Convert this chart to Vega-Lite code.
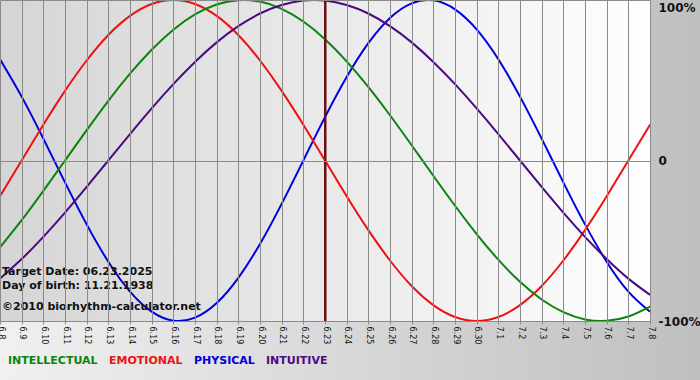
{
 "$schema": "https://vega.github.io/schema/vega-lite/v6.json",
 "width": 650,
 "height": 321,
 "autosize": {"type": "none"},
 "padding": {"left": 0, "top": 0, "right": 50, "bottom": 59},
 "background": "#d4d4d4",
 "config": {"view": {"stroke": null},
  "axisX": {"labelAngle": 90, "labelAlign": "left", "labelBaseline": "middle", "labelPadding": 2,
        "labelFont": "DejaVu Sans", "labelFontSize": 8, "labelColor": "#111111",
        "labelOverlap": false, "labelBound": false, "labelFlush": false,
        "tickSize": 3, "tickColor": "#8a8a8a", "domainColor": "#8a8a8a", "grid": true},
  "axisY": {"labelFont": "DejaVu Sans", "labelFontWeight": "bold", "labelFontSize": 12, "labelColor": "#111111",
        "labelPadding": 8, "labelBaseline": "middle",
        "labelOverlap": false, "labelBound": false, "labelFlush": false,
        "ticks": false, "tickSize": 0, "domain": false, "grid": true, "gridColor": "#8a8a8a"}
 },
 "data": {"values": [
  {"day":0,"series":"PHYSICAL","value":63.1},{"day":1,"series":"PHYSICAL","value":39.8},{"day":2,"series":"PHYSICAL","value":13.6},{"day":3,"series":"PHYSICAL","value":-13.6},{"day":4,"series":"PHYSICAL","value":-39.8},{"day":5,"series":"PHYSICAL","value":-63.1},{"day":6,"series":"PHYSICAL","value":-81.7},{"day":7,"series":"PHYSICAL","value":-94.2},{"day":8,"series":"PHYSICAL","value":-99.8},{"day":9,"series":"PHYSICAL","value":-97.9},{"day":10,"series":"PHYSICAL","value":-88.8},{"day":11,"series":"PHYSICAL","value":-73.1},{"day":12,"series":"PHYSICAL","value":-52.0},{"day":13,"series":"PHYSICAL","value":-27.0},{"day":14,"series":"PHYSICAL","value":0},{"day":15,"series":"PHYSICAL","value":27.0},{"day":16,"series":"PHYSICAL","value":52.0},{"day":17,"series":"PHYSICAL","value":73.1},{"day":18,"series":"PHYSICAL","value":88.8},{"day":19,"series":"PHYSICAL","value":97.9},{"day":20,"series":"PHYSICAL","value":99.8},{"day":21,"series":"PHYSICAL","value":94.2},{"day":22,"series":"PHYSICAL","value":81.7},{"day":23,"series":"PHYSICAL","value":63.1},{"day":24,"series":"PHYSICAL","value":39.8},{"day":25,"series":"PHYSICAL","value":13.6},{"day":26,"series":"PHYSICAL","value":-13.6},{"day":27,"series":"PHYSICAL","value":-39.8},{"day":28,"series":"PHYSICAL","value":-63.1},{"day":29,"series":"PHYSICAL","value":-81.7},{"day":30,"series":"PHYSICAL","value":-94.2},
  {"day":0,"series":"EMOTIONAL","value":-22.3},{"day":1,"series":"EMOTIONAL","value":0},{"day":2,"series":"EMOTIONAL","value":22.3},{"day":3,"series":"EMOTIONAL","value":43.4},{"day":4,"series":"EMOTIONAL","value":62.3},{"day":5,"series":"EMOTIONAL","value":78.2},{"day":6,"series":"EMOTIONAL","value":90.1},{"day":7,"series":"EMOTIONAL","value":97.5},{"day":8,"series":"EMOTIONAL","value":100},{"day":9,"series":"EMOTIONAL","value":97.5},{"day":10,"series":"EMOTIONAL","value":90.1},{"day":11,"series":"EMOTIONAL","value":78.2},{"day":12,"series":"EMOTIONAL","value":62.3},{"day":13,"series":"EMOTIONAL","value":43.4},{"day":14,"series":"EMOTIONAL","value":22.3},{"day":15,"series":"EMOTIONAL","value":0},{"day":16,"series":"EMOTIONAL","value":-22.3},{"day":17,"series":"EMOTIONAL","value":-43.4},{"day":18,"series":"EMOTIONAL","value":-62.3},{"day":19,"series":"EMOTIONAL","value":-78.2},{"day":20,"series":"EMOTIONAL","value":-90.1},{"day":21,"series":"EMOTIONAL","value":-97.5},{"day":22,"series":"EMOTIONAL","value":-100},{"day":23,"series":"EMOTIONAL","value":-97.5},{"day":24,"series":"EMOTIONAL","value":-90.1},{"day":25,"series":"EMOTIONAL","value":-78.2},{"day":26,"series":"EMOTIONAL","value":-62.3},{"day":27,"series":"EMOTIONAL","value":-43.4},{"day":28,"series":"EMOTIONAL","value":-22.3},{"day":29,"series":"EMOTIONAL","value":0},{"day":30,"series":"EMOTIONAL","value":22.3},
  {"day":0,"series":"INTELLECTUAL","value":-54.1},{"day":1,"series":"INTELLECTUAL","value":-37.2},{"day":2,"series":"INTELLECTUAL","value":-18.9},{"day":3,"series":"INTELLECTUAL","value":0},{"day":4,"series":"INTELLECTUAL","value":18.9},{"day":5,"series":"INTELLECTUAL","value":37.2},{"day":6,"series":"INTELLECTUAL","value":54.1},{"day":7,"series":"INTELLECTUAL","value":69.0},{"day":8,"series":"INTELLECTUAL","value":81.5},{"day":9,"series":"INTELLECTUAL","value":91.0},{"day":10,"series":"INTELLECTUAL","value":97.2},{"day":11,"series":"INTELLECTUAL","value":99.9},{"day":12,"series":"INTELLECTUAL","value":99.0},{"day":13,"series":"INTELLECTUAL","value":94.5},{"day":14,"series":"INTELLECTUAL","value":86.6},{"day":15,"series":"INTELLECTUAL","value":75.6},{"day":16,"series":"INTELLECTUAL","value":61.8},{"day":17,"series":"INTELLECTUAL","value":45.8},{"day":18,"series":"INTELLECTUAL","value":28.2},{"day":19,"series":"INTELLECTUAL","value":9.5},{"day":20,"series":"INTELLECTUAL","value":-9.5},{"day":21,"series":"INTELLECTUAL","value":-28.2},{"day":22,"series":"INTELLECTUAL","value":-45.8},{"day":23,"series":"INTELLECTUAL","value":-61.8},{"day":24,"series":"INTELLECTUAL","value":-75.6},{"day":25,"series":"INTELLECTUAL","value":-86.6},{"day":26,"series":"INTELLECTUAL","value":-94.5},{"day":27,"series":"INTELLECTUAL","value":-99.0},{"day":28,"series":"INTELLECTUAL","value":-99.9},{"day":29,"series":"INTELLECTUAL","value":-97.2},{"day":30,"series":"INTELLECTUAL","value":-91.0},
  {"day":0,"series":"INTUITIVE","value":-73.6},{"day":1,"series":"INTUITIVE","value":-61.4},{"day":2,"series":"INTUITIVE","value":-47.6},{"day":3,"series":"INTUITIVE","value":-32.5},{"day":4,"series":"INTUITIVE","value":-16.5},{"day":5,"series":"INTUITIVE","value":0},{"day":6,"series":"INTUITIVE","value":16.5},{"day":7,"series":"INTUITIVE","value":32.5},{"day":8,"series":"INTUITIVE","value":47.6},{"day":9,"series":"INTUITIVE","value":61.4},{"day":10,"series":"INTUITIVE","value":73.6},{"day":11,"series":"INTUITIVE","value":83.7},{"day":12,"series":"INTUITIVE","value":91.6},{"day":13,"series":"INTUITIVE","value":96.9},{"day":14,"series":"INTUITIVE","value":99.7},{"day":15,"series":"INTUITIVE","value":99.7},{"day":16,"series":"INTUITIVE","value":96.9},{"day":17,"series":"INTUITIVE","value":91.6},{"day":18,"series":"INTUITIVE","value":83.7},{"day":19,"series":"INTUITIVE","value":73.6},{"day":20,"series":"INTUITIVE","value":61.4},{"day":21,"series":"INTUITIVE","value":47.6},{"day":22,"series":"INTUITIVE","value":32.5},{"day":23,"series":"INTUITIVE","value":16.5},{"day":24,"series":"INTUITIVE","value":0},{"day":25,"series":"INTUITIVE","value":-16.5},{"day":26,"series":"INTUITIVE","value":-32.5},{"day":27,"series":"INTUITIVE","value":-47.6},{"day":28,"series":"INTUITIVE","value":-61.4},{"day":29,"series":"INTUITIVE","value":-73.6},{"day":30,"series":"INTUITIVE","value":-83.7}
 ]},
 "layer": [
  {
   "data": {"values": [{}]},
   "mark": {"type": "rect", "clip": false, "fill": {"gradient": "linear", "x1": 0, "y1": 0, "x2": 1, "y2": 0, "stops": [{"offset": 0, "color": "#f0f0f0"}, {"offset": 1, "color": "#bfbfbf"}]}},
   "encoding": {
    "x": {"datum": 0, "type": "quantitative", "title": null, "scale": {"domain": [0, 30], "nice": false, "zero": false},
      "axis": {"orient": "bottom", "zindex": 1, "tickCount": 40, "values": [0,1,2,3,4,5,6,7,8,9,10,11,12,13,14,15,16,17,18,19,20,21,22,23,24,25,26,27,28,29,30],
        "labelExpr": "datum.value < 23 ? '6.' + (datum.value + 8) : '7.' + (datum.value - 22)",
        "gridColor": {"condition": {"test": "datum.value === 15", "value": "#6e0f0f"}, "value": "#8a8a8a"},
        "gridWidth": {"condition": {"test": "datum.value === 15", "value": 2}, "value": 1}}},
    "x2": {"datum": 32.5},
    "y": {"datum": 100, "type": "quantitative", "title": null, "scale": {"domain": [-100, 100], "nice": false},
      "axis": {"orient": "right", "zindex": 1, "values": [-100, 0, 100],
        "labelExpr": "datum.value === 100 ? '100%' : (datum.value === 0 ? '0' : '-100%')",
        "labelOffset": {"condition": {"test": "datum.value === 100", "value": 7}, "value": 0}}},
    "y2": {"datum": -137.5}
   }
  },
  {
   "data": {"values": [{}]},
   "mark": {"type": "rect", "fill": {"gradient": "linear", "x1": 0, "y1": 0, "x2": 1, "y2": 0, "stops": [{"offset": 0, "color": "#d5d5d5"}, {"offset": 1, "color": "#fefefe"}]}},
   "encoding": {
    "x": {"datum": 0, "type": "quantitative", "title": null, "scale": {"domain": [0, 30], "nice": false, "zero": false},
      "axis": {"orient": "bottom", "zindex": 1, "tickCount": 40, "values": [0,1,2,3,4,5,6,7,8,9,10,11,12,13,14,15,16,17,18,19,20,21,22,23,24,25,26,27,28,29,30],
        "labelExpr": "datum.value < 23 ? '6.' + (datum.value + 8) : '7.' + (datum.value - 22)",
        "gridColor": {"condition": {"test": "datum.value === 15", "value": "#6e0f0f"}, "value": "#8a8a8a"},
        "gridWidth": {"condition": {"test": "datum.value === 15", "value": 2}, "value": 1}}},
    "x2": {"datum": 30},
    "y": {"datum": 100, "type": "quantitative", "title": null, "scale": {"domain": [-100, 100], "nice": false},
      "axis": {"orient": "right", "zindex": 1, "values": [-100, 0, 100],
        "labelExpr": "datum.value === 100 ? '100%' : (datum.value === 0 ? '0' : '-100%')",
        "labelOffset": {"condition": {"test": "datum.value === 100", "value": 7}, "value": 0}}},
    "y2": {"datum": -100}
   }
  },
  {
   "data": {"values": [{}]},
   "mark": {"type": "rule", "color": "#6e0f0f", "strokeWidth": 2},
   "encoding": {
    "x": {"datum": 15, "type": "quantitative", "title": null, "scale": {"domain": [0, 30], "nice": false, "zero": false},
      "axis": {"orient": "bottom", "zindex": 1, "tickCount": 40, "values": [0,1,2,3,4,5,6,7,8,9,10,11,12,13,14,15,16,17,18,19,20,21,22,23,24,25,26,27,28,29,30],
        "labelExpr": "datum.value < 23 ? '6.' + (datum.value + 8) : '7.' + (datum.value - 22)",
        "gridColor": {"condition": {"test": "datum.value === 15", "value": "#6e0f0f"}, "value": "#8a8a8a"},
        "gridWidth": {"condition": {"test": "datum.value === 15", "value": 2}, "value": 1}}}
   }
  },
  {
   "mark": {"type": "line", "interpolate": "natural", "strokeWidth": 2, "clip": false},
   "encoding": {
    "x": {"field": "day", "type": "quantitative", "title": null,
      "scale": {"domain": [0, 30], "nice": false, "zero": false},
      "axis": {"orient": "bottom", "zindex": 1, "tickCount": 40, "values": [0,1,2,3,4,5,6,7,8,9,10,11,12,13,14,15,16,17,18,19,20,21,22,23,24,25,26,27,28,29,30],
        "labelExpr": "datum.value < 23 ? '6.' + (datum.value + 8) : '7.' + (datum.value - 22)",
        "gridColor": {"condition": {"test": "datum.value === 15", "value": "#6e0f0f"}, "value": "#8a8a8a"},
        "gridWidth": {"condition": {"test": "datum.value === 15", "value": 2}, "value": 1}}},
    "y": {"field": "value", "type": "quantitative", "title": null,
      "scale": {"domain": [-100, 100], "nice": false},
      "axis": {"orient": "right", "zindex": 1, "values": [-100, 0, 100],
        "labelExpr": "datum.value === 100 ? '100%' : (datum.value === 0 ? '0' : '-100%')",
        "labelOffset": {"condition": {"test": "datum.value === 100", "value": 7}, "value": 0}}},
    "color": {"field": "series", "type": "nominal",
      "scale": {"domain": ["INTELLECTUAL", "EMOTIONAL", "PHYSICAL", "INTUITIVE"], "range": ["#0b840b", "#ee1111", "#0000dd", "#4b0a82"]},
      "legend": {"orient": "none", "legendX": -3, "legendY": 355, "direction": "horizontal", "title": null,
        "padding": 0, "symbolSize": 1, "symbolStrokeWidth": 0, "symbolOpacity": 0, "labelOffset": 0,
        "columnPadding": -3, "labelFont": "DejaVu Sans", "labelFontWeight": "bold", "labelFontSize": 11,
        "encode": {"labels": {"update": {"fill": {"scale": "color", "field": "value"}}}}}}
   }
  },
  {
   "data": {"values": [{}]},
   "mark": {"type": "text", "align": "left", "baseline": "middle", "dx": 2, "font": "DejaVu Sans", "fontWeight": "bold", "fontSize": 11, "color": "#111111"},
   "encoding": {
    "x": {"datum": 0, "type": "quantitative", "title": null, "scale": {"domain": [0, 30], "nice": false, "zero": false},
      "axis": {"orient": "bottom", "zindex": 1, "tickCount": 40, "values": [0,1,2,3,4,5,6,7,8,9,10,11,12,13,14,15,16,17,18,19,20,21,22,23,24,25,26,27,28,29,30],
        "labelExpr": "datum.value < 23 ? '6.' + (datum.value + 8) : '7.' + (datum.value - 22)",
        "gridColor": {"condition": {"test": "datum.value === 15", "value": "#6e0f0f"}, "value": "#8a8a8a"},
        "gridWidth": {"condition": {"test": "datum.value === 15", "value": 2}, "value": 1}}},
    "y": {"datum": -69.5, "type": "quantitative", "title": null, "scale": {"domain": [-100, 100], "nice": false},
      "axis": {"orient": "right", "zindex": 1, "values": [-100, 0, 100],
        "labelExpr": "datum.value === 100 ? '100%' : (datum.value === 0 ? '0' : '-100%')",
        "labelOffset": {"condition": {"test": "datum.value === 100", "value": 7}, "value": 0}}},
    "text": {"value": "Target Date: 06.23.2025"}
   }
  },
  {
   "data": {"values": [{}]},
   "mark": {"type": "text", "align": "left", "baseline": "middle", "dx": 2, "font": "DejaVu Sans", "fontWeight": "bold", "fontSize": 11, "color": "#111111"},
   "encoding": {
    "x": {"datum": 0, "type": "quantitative", "title": null, "scale": {"domain": [0, 30], "nice": false, "zero": false},
      "axis": {"orient": "bottom", "zindex": 1, "tickCount": 40, "values": [0,1,2,3,4,5,6,7,8,9,10,11,12,13,14,15,16,17,18,19,20,21,22,23,24,25,26,27,28,29,30],
        "labelExpr": "datum.value < 23 ? '6.' + (datum.value + 8) : '7.' + (datum.value - 22)",
        "gridColor": {"condition": {"test": "datum.value === 15", "value": "#6e0f0f"}, "value": "#8a8a8a"},
        "gridWidth": {"condition": {"test": "datum.value === 15", "value": 2}, "value": 1}}},
    "y": {"datum": -78.2, "type": "quantitative", "title": null, "scale": {"domain": [-100, 100], "nice": false},
      "axis": {"orient": "right", "zindex": 1, "values": [-100, 0, 100],
        "labelExpr": "datum.value === 100 ? '100%' : (datum.value === 0 ? '0' : '-100%')",
        "labelOffset": {"condition": {"test": "datum.value === 100", "value": 7}, "value": 0}}},
    "text": {"value": "Day of birth: 11.21.1938"}
   }
  },
  {
   "data": {"values": [{}]},
   "mark": {"type": "text", "align": "left", "baseline": "middle", "dx": 2, "font": "DejaVu Sans", "fontWeight": "bold", "fontSize": 11, "color": "#111111"},
   "encoding": {
    "x": {"datum": 0, "type": "quantitative", "title": null, "scale": {"domain": [0, 30], "nice": false, "zero": false},
      "axis": {"orient": "bottom", "zindex": 1, "tickCount": 40, "values": [0,1,2,3,4,5,6,7,8,9,10,11,12,13,14,15,16,17,18,19,20,21,22,23,24,25,26,27,28,29,30],
        "labelExpr": "datum.value < 23 ? '6.' + (datum.value + 8) : '7.' + (datum.value - 22)",
        "gridColor": {"condition": {"test": "datum.value === 15", "value": "#6e0f0f"}, "value": "#8a8a8a"},
        "gridWidth": {"condition": {"test": "datum.value === 15", "value": 2}, "value": 1}}},
    "y": {"datum": -91.3, "type": "quantitative", "title": null, "scale": {"domain": [-100, 100], "nice": false},
      "axis": {"orient": "right", "zindex": 1, "values": [-100, 0, 100],
        "labelExpr": "datum.value === 100 ? '100%' : (datum.value === 0 ? '0' : '-100%')",
        "labelOffset": {"condition": {"test": "datum.value === 100", "value": 7}, "value": 0}}},
    "text": {"value": "©2010 biorhythm-calculator.net"}
   }
  }
 ]
}
